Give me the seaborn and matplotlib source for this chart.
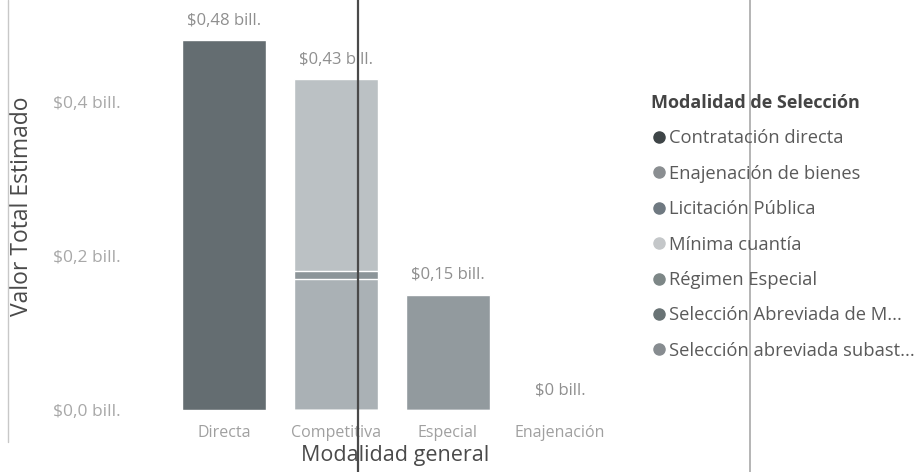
import matplotlib
matplotlib.use("Agg")
import matplotlib.pyplot as plt
from matplotlib.lines import Line2D
import seaborn as sns
import pandas as pd
import numpy as np

# ---- data ----
categories = ["Directa", "Competitiva", "Especial", "Enajenación"]
series_names = [
    "Contratación directa",
    "Enajenación de bienes",
    "Licitación Pública",
    "Mínima cuantía",
    "Régimen Especial",
    "Selección Abreviada de M...",
    "Selección abreviada subast...",
]
contratacion_directa = [0.48, 0.0, 0.0, 0.0]
enajenacion_bienes = [0.0, 0.0, 0.0, 0.0]
licitacion_publica = [0.0, 0.17, 0.0, 0.0]
minima_cuantia = [0.0, 0.25, 0.0, 0.0]
regimen_especial = [0.0, 0.0, 0.15, 0.0]
seleccion_abreviada_m = [0.0, 0.01, 0.0, 0.0]
seleccion_abreviada_subasta = [0.0, 0.0, 0.0, 0.0]
total_labels = ["$0,48 bill.", "$0,43 bill.", "$0,15 bill.", "$0 bill."]
ytick_values = [0.0, 0.2, 0.4]
ytick_labels = ["$0,0 bill.", "$0,2 bill.", "$0,4 bill."]

values = {
    "Contratación directa": contratacion_directa,
    "Enajenación de bienes": enajenacion_bienes,
    "Licitación Pública": licitacion_publica,
    "Mínima cuantía": minima_cuantia,
    "Régimen Especial": regimen_especial,
    "Selección Abreviada de M...": seleccion_abreviada_m,
    "Selección abreviada subast...": seleccion_abreviada_subasta,
}
bar_colors = {
    "Contratación directa": "#646d71",
    "Enajenación de bienes": "#8c9194",
    "Licitación Pública": "#aab1b5",
    "Mínima cuantía": "#bbc1c4",
    "Régimen Especial": "#929a9e",
    "Selección Abreviada de M...": "#8c9599",
    "Selección abreviada subast...": "#8f9599",
}
legend_colors = {
    "Contratación directa": "#3e4547",
    "Enajenación de bienes": "#8a8e91",
    "Licitación Pública": "#6f7981",
    "Mínima cuantía": "#c4c7c9",
    "Régimen Especial": "#7d8787",
    "Selección Abreviada de M...": "#697375",
    "Selección abreviada subast...": "#878c90",
}
# stacking order from bottom to top
stack_order = [
    "Contratación directa",
    "Régimen Especial",
    "Enajenación de bienes",
    "Licitación Pública",
    "Selección Abreviada de M...",
    "Mínima cuantía",
    "Selección abreviada subast...",
]

sns.set_theme(style="white")
plt.rcParams["font.family"] = ["Open Sans", "DejaVu Sans"]

fig = plt.figure(figsize=(9.17, 4.72), dpi=100)
W, H = 917, 472
ax = fig.add_axes([157 / W, 62 / H, 470 / W, 385 / H])

df = pd.DataFrame(values, index=categories)
cum = df[stack_order].cumsum(axis=1)
# draw from top layer down so lower layers overlay
for name in reversed(stack_order):
    d = pd.DataFrame({"cat": categories, "val": cum[name].values})
    sns.barplot(data=d, x="cat", y="val", color=bar_colors[name], order=categories,
                width=0.75, saturation=1, ax=ax, errorbar=None)

totals = df.sum(axis=1).values
for i, (t, lab) in enumerate(zip(totals, total_labels)):
    ax.annotate(lab, (i, t), xytext=(0, 8), textcoords="offset points",
                ha="center", va="bottom", fontsize=12, color="#8f8f8f")

ax.set_xlim(-0.6, 3.6)
ax.set_ylim(0, 0.5)
ax.set_yticks(ytick_values)
ax.set_yticklabels(ytick_labels)
ax.tick_params(axis="y", length=0, pad=26, labelsize=12.5, labelcolor="#a8a8a8")
ax.tick_params(axis="x", length=0, pad=11, labelsize=11.5, labelcolor="#a0a0a0")
for s in ax.spines.values():
    s.set_visible(False)
ax.set_xlabel("Modalidad general", fontsize=15.5, color="#4a4a4a")
ax.set_ylabel("Valor Total Estimado", fontsize=16.5, color="#4a4a4a")
ax.xaxis.set_label_coords(0.506, -0.118)
ax.yaxis.set_label_coords(-0.287, 0.53)
ax.xaxis.label.set_va("center")
ax.yaxis.label.set_va("center")

handles = [Line2D([0], [0], marker="o", linestyle="", markersize=8,
                  markerfacecolor=legend_colors[n], markeredgecolor=legend_colors[n])
           for n in series_names]
leg = fig.legend(handles, series_names, loc="upper left",
                 bbox_to_anchor=(651 / W, 1 - 94 / H), frameon=False,
                 title="Modalidad de Selección", alignment="left",
                 fontsize=13.2, handlelength=0.9, handletextpad=0.1,
                 labelspacing=0.95, borderaxespad=0, borderpad=0)
leg.get_title().set_fontweight("bold")
leg.get_title().set_fontsize(13)
leg.get_title().set_color("#444444")
for t in leg.get_texts():
    t.set_color("#5a5a5a")

# scan artifacts: vertical lines and left border
fig.add_artist(Line2D([358 / W, 358 / W], [0, 1], color="#4a4a4a", lw=1.6))
fig.add_artist(Line2D([750 / W, 750 / W], [0, 1], color="#a8a8a8", lw=1.2))
fig.add_artist(Line2D([8 / W, 8 / W], [30 / H, 1], color="#c8c8c8", lw=1.0))

fig.savefig("out.png", dpi=100)
